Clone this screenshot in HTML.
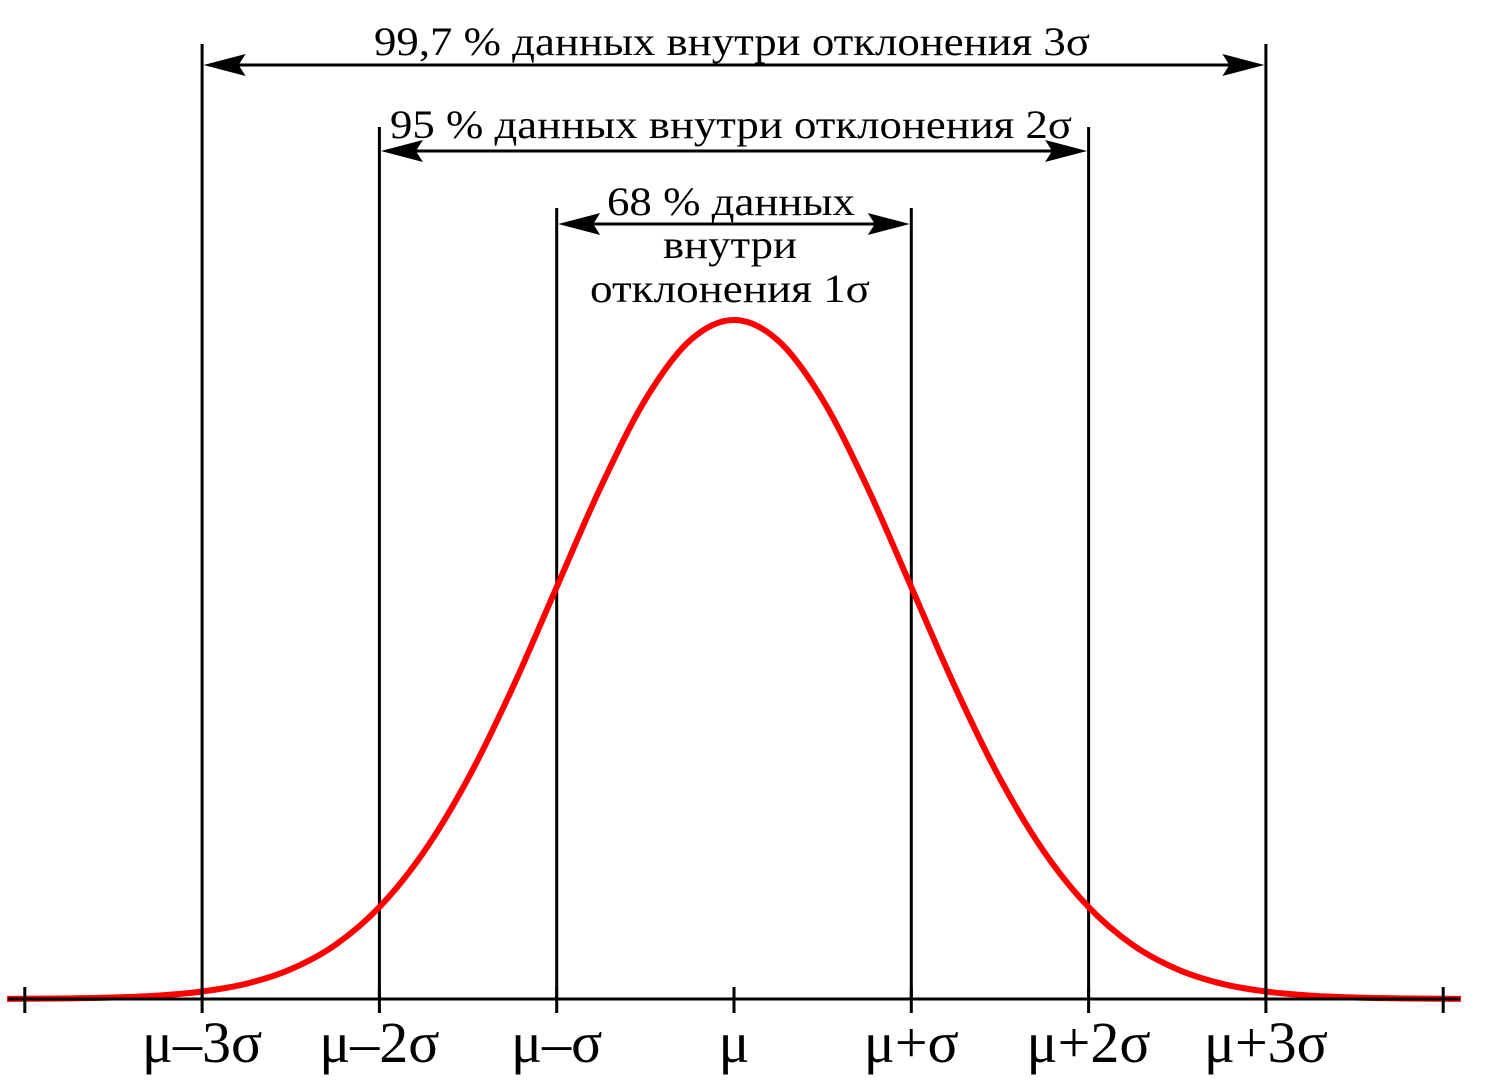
<!DOCTYPE html>
<html><head><meta charset="utf-8">
<style>
html,body{margin:0;padding:0;background:#fff;}
svg{display:block;}
text{font-family:"Liberation Serif",serif;fill:#000;}
</style></head>
<body>
<svg id="chart" width="1487" height="1086" viewBox="0 0 1487 1086" xmlns="http://www.w3.org/2000/svg">
<g id="guides"></g>
<path id="curve" fill="none" stroke="#ff0000" stroke-width="6" stroke-linejoin="round"/>
<line x1="8" y1="999" x2="1460" y2="999" stroke="#000" stroke-width="3"/>
<g id="ticks"></g>
<g id="labels"></g>
<g id="annot">
<text x="732" y="55" font-size="40" text-anchor="middle" textLength="716" lengthAdjust="spacingAndGlyphs">99,7 % данных внутри отклонения 3σ</text>
<text x="731" y="138" font-size="40" text-anchor="middle" textLength="682" lengthAdjust="spacingAndGlyphs">95 % данных внутри отклонения 2σ</text>
<text x="731" y="215" font-size="40" text-anchor="middle" textLength="248" lengthAdjust="spacingAndGlyphs">68 % данных</text>
<text x="730" y="258" font-size="40" text-anchor="middle" textLength="134" lengthAdjust="spacingAndGlyphs">внутри</text>
<text x="730" y="302" font-size="40" text-anchor="middle" textLength="280" lengthAdjust="spacingAndGlyphs">отклонения 1σ</text>
</g>
</svg>
<script>
const zValues = [-4.1,-3.75,-3.5,-3.25,-3,-2.75,-2.5,-2.25,-2,-1.75,-1.5,-1.25,-1,-0.75,-0.5,-0.25,0,0.25,0.5,0.75,1,1.25,1.5,1.75,2,2.25,2.5,2.75,3,3.25,3.5,3.75,4.1];
const density = [0.0001,0.0004,0.0009,0.002,0.0044,0.009,0.0175,0.0317,0.054,0.0863,0.1295,0.1826,0.242,0.3011,0.3521,0.3867,0.3989,0.3867,0.3521,0.3011,0.242,0.1826,0.1295,0.0863,0.054,0.0317,0.0175,0.009,0.0044,0.002,0.0009,0.0004,0.0001];
const sigmaSteps = [-3,-2,-1,0,1,2,3];
const tickLabels = ["μ–3σ","μ–2σ","μ–σ","μ","μ+σ","μ+2σ","μ+3σ"];
const endTicks = [-4, 4];
const guideTops = {3:44, 2:127, 1:208};
const arrowYs = {3:65, 2:151, 1:224};

const NS = "http://www.w3.org/2000/svg";
const X0 = 734, SIG = 177.3, Y0 = 999, PEAK = 0.3989, PH = 679;
const xs = z => X0 + z*SIG;
const ys = v => Y0 - v/PEAK*PH;
function mk(tag, attrs, parent){const e=document.createElementNS(NS,tag);for(const k in attrs)e.setAttribute(k,attrs[k]);parent.appendChild(e);return e;}

const pts = zValues.map((z,i)=>[xs(z), ys(density[i])]);
let d = `M${pts[0][0]},${pts[0][1]}`;
for(let i=0;i<pts.length-1;i++){
  const p0=pts[Math.max(0,i-1)],p1=pts[i],p2=pts[i+1],p3=pts[Math.min(pts.length-1,i+2)];
  d+=` C${p1[0]+(p2[0]-p0[0])/6},${p1[1]+(p2[1]-p0[1])/6} ${p2[0]-(p3[0]-p1[0])/6},${p2[1]-(p3[1]-p1[1])/6} ${p2[0]},${p2[1]}`;
}
document.getElementById('curve').setAttribute('d', d);

const guides = document.getElementById('guides');
const ticks = document.getElementById('ticks');
const labels = document.getElementById('labels');
sigmaSteps.forEach((s,i)=>{
  const x = xs(s);
  if(s!==0){
    const l = mk('line',{x1:x,y1:guideTops[Math.abs(s)],x2:x,y2:Y0,stroke:'#000','stroke-width':3},guides);
    
    
  }
  const t = mk('line',{x1:x,y1:Y0-12,x2:x,y2:Y0+14,stroke:'#000','stroke-width':3},ticks);
  
  
  const tx = mk('text',{x:x,y:1062,'font-size':58,'text-anchor':'middle'},labels);
  tx.textContent = tickLabels[i];
  
  
});
endTicks.forEach((z,i)=>{
  const x = xs(z);
  const t = mk('line',{x1:x,y1:Y0-12,x2:x,y2:Y0+14,stroke:'#000','stroke-width':3},ticks);
  
  
});
[3,2,1].forEach(k=>{
  const xl = xs(-k)+1.5, xr = xs(k)-1.5, y = arrowYs[k];
  const g = mk('g',{},guides);
  
  
  mk('line',{x1:xl+30,y1:y,x2:xr-30,y2:y,stroke:'#000','stroke-width':3},g);
  mk('path',{d:`M${xl},${y} L${xl+42},${y-11} L${xl+35},${y} L${xl+42},${y+11} Z`,fill:'#000'},g);
  mk('path',{d:`M${xr},${y} L${xr-42},${y-11} L${xr-35},${y} L${xr-42},${y+11} Z`,fill:'#000'},g);
});
</script>
</body></html>
